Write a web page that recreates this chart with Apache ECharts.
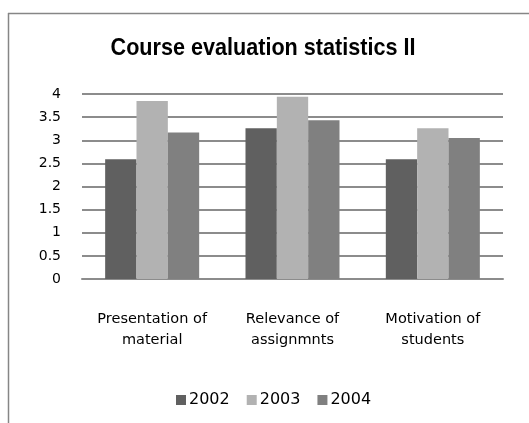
<!DOCTYPE html>
<html><head><meta charset="utf-8">
<script src="https://cdn.jsdelivr.net/npm/echarts@6/dist/echarts.min.js"></script>
<style>html,body{margin:0;padding:0;background:#fff}#c{width:529px;height:423px}</style>
</head><body><div id="c"></div>
<script>
const titleText = 'Course evaluation statistics II';
const categories = ['Presentation of\nmaterial', 'Relevance of\nassignmnts', 'Motivation of\nstudents'];
const s2002 = [2.59, 3.26, 2.59];
const s2003 = [3.85, 3.94, 3.26];
const s2004 = [3.17, 3.43, 3.05];
const seriesNames = ['2002', '2003', '2004'];
const colors = ['#606060', '#b2b2b2', '#808080'];

const chart = echarts.init(document.getElementById('c'), null, {renderer: 'canvas'});
const lf = 'DejaVu Sans, sans-serif';
chart.setOption({
  animation: false,
  color: colors,
  legend: {
    bottom: 10, left: 171, itemWidth: 10, itemHeight: 10, itemGap: 17,
    icon: 'rect',
    textStyle: {fontFamily: lf, fontSize: 16, color: '#000', padding: [0,0,0,-2]},
    data: seriesNames
  },
  grid: {left: 82, right: 26, top: 94, bottom: 144},
  xAxis: {
    type: 'category', data: categories,
    axisLine: {lineStyle: {color: '#8c8c8c', width: 2}},
    axisTick: {show: false},
    axisLabel: {fontFamily: lf, fontSize: 14.5, color: '#000', margin: 30, lineHeight: 21, interval: 0}
  },
  yAxis: {
    type: 'value', min: 0, max: 4, interval: 0.5,
    axisLine: {show: false}, axisTick: {show: false},
    splitLine: {lineStyle: {color: '#8c8c8c', width: 2}},
    axisLabel: {fontFamily: lf, fontSize: 14, color: '#000', margin: 21}
  },
  series: [
    {name: seriesNames[0], type: 'bar', data: s2002, barGap: '0%', barCategoryGap: '33%', itemStyle: {color: colors[0]}},
    {name: seriesNames[1], type: 'bar', data: s2003, barGap: '0%', barCategoryGap: '33%', itemStyle: {color: colors[1]}},
    {name: seriesNames[2], type: 'bar', data: s2004, barGap: '0%', barCategoryGap: '33%', itemStyle: {color: colors[2]}}
  ],
  graphic: [
    {type: 'line', shape: {x1: 8.5, y1: 13, x2: 8.5, y2: 423}, style: {stroke: '#868686', lineWidth: 1.5}},
    {type: 'line', shape: {x1: 8, y1: 13.5, x2: 529, y2: 13.5}, style: {stroke: '#868686', lineWidth: 1.5}},
    {type: 'text', x: 263, y: 48, scaleX: 0.9,
     style: {text: titleText, align: 'center', verticalAlign: 'middle', fill: '#000',
             font: 'bold 24px "Liberation Sans", Arial, sans-serif'}}
  ]
});
</script></body></html>
